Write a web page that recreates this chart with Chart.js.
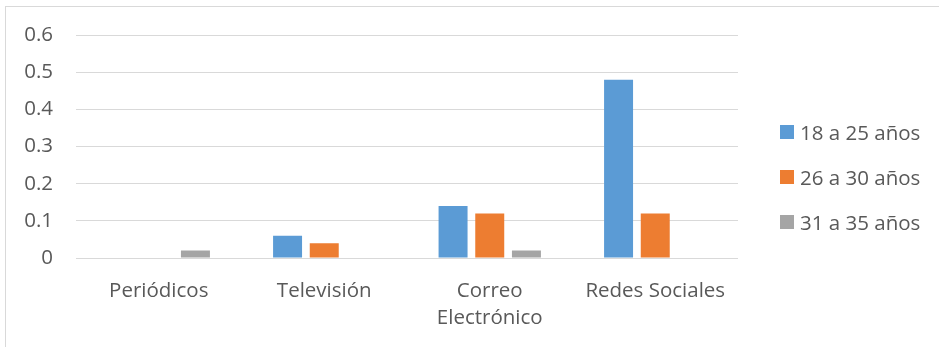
<!DOCTYPE html>
<html lang="es">
<head>
<meta charset="UTF-8">
<title>Medios por edad</title>
<script src="https://cdn.jsdelivr.net/npm/chart.js"></script>
<style>
    body { margin: 0; background: #fff; overflow: hidden; }
    .frame { position: absolute; left: 5px; top: 6px; width: 1000px; height: 400px; border: 1px solid #d9d9d9; }
    .wrap { position: absolute; left: 0; top: 0; width: 939px; height: 347px; }
    #legend { position: absolute; left: 780px; top: 0; font-family: 'Open Sans', sans-serif; font-size: 20.5px; color: #595959; }
    #legend .item { position: absolute; left: 0; white-space: nowrap; display: flex; align-items: center; height: 20px; }
    #legend .box { width: 14px; height: 14px; margin-right: 6px; }
</style>
</head>
<body>
<div class="frame"></div>
<div class="wrap"><canvas id="chart" width="939" height="347"></canvas></div>
<div id="legend"></div>
<script>
    const categorias = [['Periódicos'], ['Televisión'], ['Correo', 'Electrónico'], ['Redes Sociales']];
    const series = ['18 a 25 años', '26 a 30 años', '31 a 35 años'];
    const colores = ['#5b9bd5', '#ed7d31', '#a5a5a5'];
    const edad18a25 = [0, 0.06, 0.14, 0.48];
    const edad26a30 = [0, 0.04, 0.12, 0.12];
    const edad31a35 = [0.02, 0, 0.02, 0];
    const valores = [edad18a25, edad26a30, edad31a35];

    const textColor = '#595959';
    const gridColor = '#d9d9d9';
    const fuente = { family: 'Open Sans', size: 20.5 };

    const ctx = document.getElementById('chart').getContext('2d');
    new Chart(ctx, {
        type: 'bar',
        data: {
            labels: categorias,
            datasets: series.map((s, i) => ({
                label: s,
                data: valores[i],
                backgroundColor: colores[i],
                categoryPercentage: 0.665,
                barPercentage: 0.79
            }))
        },
        options: {
            responsive: false,
            animation: false,
            locale: 'en-US',
            layout: { padding: { left: 0, right: 201, top: 35, bottom: 0 } },
            plugins: { legend: { display: false }, tooltip: { enabled: false } },
            scales: {
                x: {
                    grid: { display: false },
                    border: { display: false },
                    ticks: { color: textColor, padding: 12, maxRotation: 0, font: { ...fuente, lineHeight: 1.32 } },
                    afterFit: s => { s.height = 89; }
                },
                y: {
                    min: 0,
                    max: 0.6,
                    grid: { color: gridColor, drawTicks: false },
                    border: { display: false },
                    ticks: { stepSize: 0.1, color: textColor, padding: 23, font: fuente },
                    afterFit: s => { s.width = 76; }
                }
            }
        }
    });

    // leyenda a la derecha
    const legend = document.getElementById('legend');
    const filas = [132, 177, 222];
    series.forEach((s, i) => {
        const el = document.createElement('div');
        el.className = 'item';
        el.style.top = (filas[i] - 10) + 'px';
        el.innerHTML = '<span class="box" style="background:' + colores[i] + '"></span>' + s;
        legend.appendChild(el);
    });
</script>
</body>
</html>
